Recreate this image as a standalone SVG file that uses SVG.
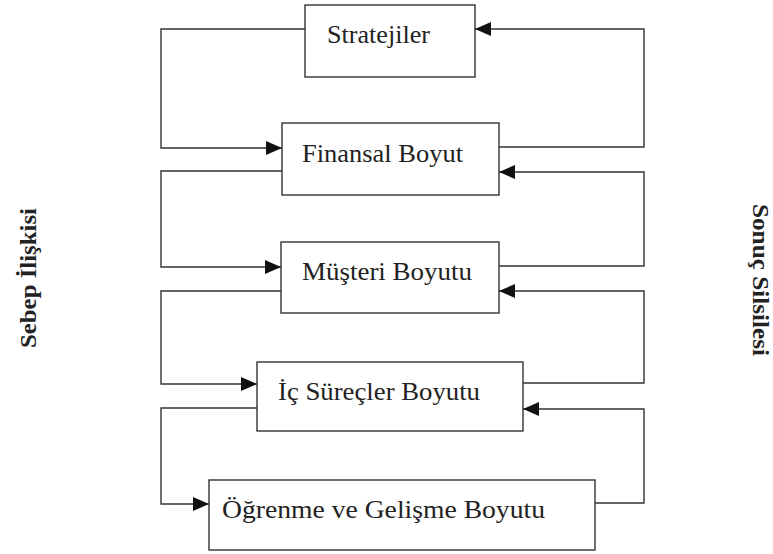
<svg xmlns="http://www.w3.org/2000/svg" width="773" height="554" viewBox="0 0 773 554">
  <defs>
    <marker id="arrow" markerUnits="userSpaceOnUse" markerWidth="17" markerHeight="15" refX="16" refY="7" orient="auto">
      <path d="M0,0 L16,7 L0,14 Z" fill="#111"/>
    </marker>
    <style>
      .box { fill: #fff; stroke: #333; stroke-width: 1.4; }
      .lbl { font-family: "Liberation Serif", serif; font-size: 25px; fill: #222; }
      .side { font-family: "Liberation Serif", serif; font-size: 23px; font-weight: bold; fill: #222; }
      .wire { fill: none; stroke: #333; stroke-width: 1.4; }
      .wire.arr { marker-end: url(#arrow); }
    </style>
  </defs>
  <rect width="773" height="554" fill="#fff"/>

  <g id="connectors">
    <!-- cause links on the left -->
    <polyline class="wire arr" points="305,29 161,29 161,148 282,148"/>
    <polyline class="wire arr" points="282,171 161,171 161,267 281,267"/>
    <polyline class="wire arr" points="281,291 161,291 161,384 257,384"/>
    <polyline class="wire arr" points="257,408 161,408 161,504 209,504"/>
    <!-- result links on the right -->
    <polyline class="wire arr" points="499,147 644,147 644,29 475,29"/>
    <polyline class="wire arr" points="499,266 644,266 644,172 499,172"/>
    <polyline class="wire arr" points="523,383 644,383 644,291 499,291"/>
    <polyline class="wire arr" points="595,503 644,503 644,409 523,409"/>
  </g>

  <g id="stratejiler">
    <rect class="box" x="305" y="5" width="170" height="72"/>
    <text class="lbl" x="327" y="43" textLength="103" lengthAdjust="spacingAndGlyphs">Stratejiler</text>
  </g>
  <g id="finansal">
    <rect class="box" x="282" y="123" width="217" height="72"/>
    <text class="lbl" x="302" y="162" textLength="161" lengthAdjust="spacingAndGlyphs">Finansal Boyut</text>
  </g>
  <g id="musteri">
    <rect class="box" x="281" y="242" width="218" height="71"/>
    <text class="lbl" x="302" y="280" textLength="170" lengthAdjust="spacingAndGlyphs">Müşteri Boyutu</text>
  </g>
  <g id="ic-surecler">
    <rect class="box" x="257" y="362" width="266" height="69"/>
    <text class="lbl" x="278" y="400" textLength="202" lengthAdjust="spacingAndGlyphs">İç Süreçler Boyutu</text>
  </g>
  <g id="ogrenme">
    <rect class="box" x="209" y="480" width="386" height="70"/>
    <text class="lbl" x="222" y="518" textLength="323" lengthAdjust="spacingAndGlyphs">Öğrenme ve Gelişme Boyutu</text>
  </g>

  <g id="side-labels">
    <text class="side" transform="translate(36,348) rotate(-90)" textLength="140" lengthAdjust="spacingAndGlyphs">Sebep İlişkisi</text>
    <text class="side" transform="translate(753,204) rotate(90)" textLength="152" lengthAdjust="spacingAndGlyphs">Sonuç Silsilesi</text>
  </g>
</svg>
